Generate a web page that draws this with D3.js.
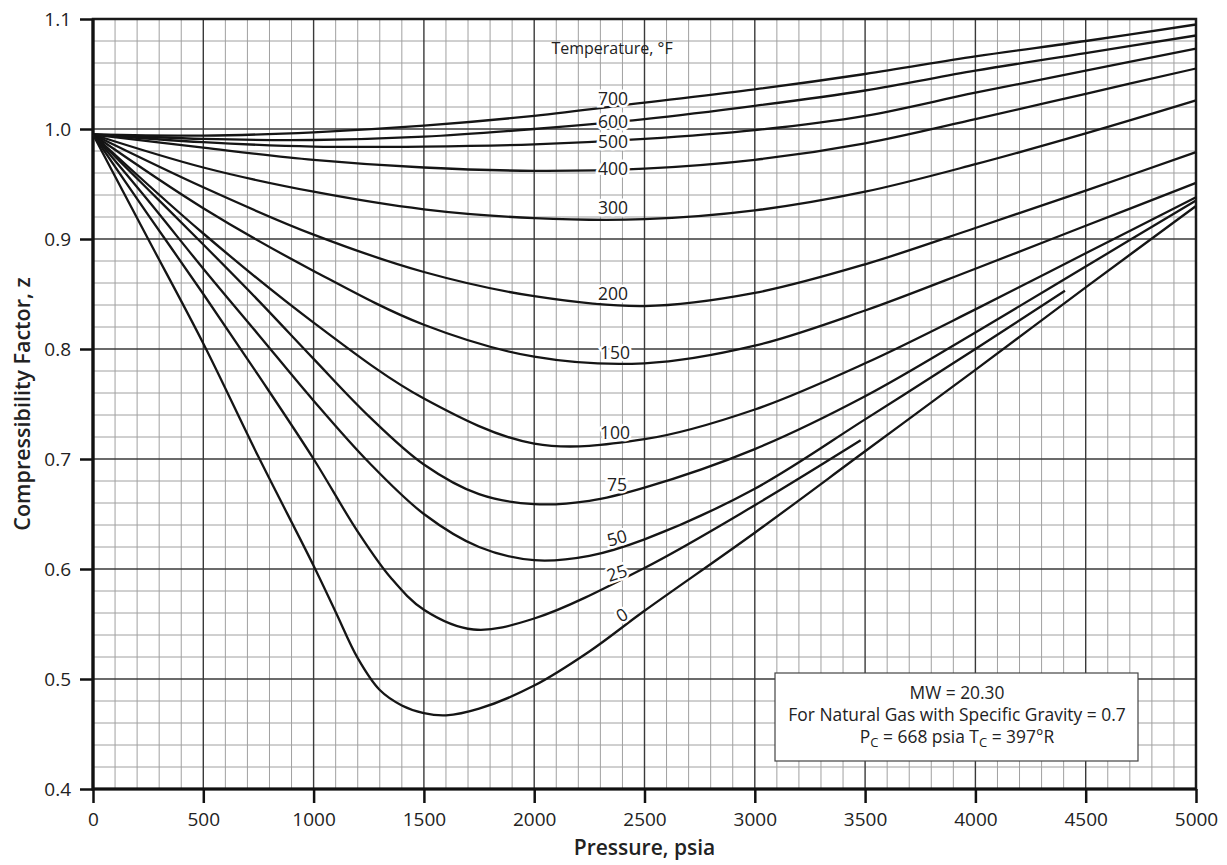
<!DOCTYPE html>
<html>
<head>
<meta charset="utf-8">
<script src="https://cdn.jsdelivr.net/npm/d3@7"></script>
<style>
  body { margin: 0; background: #fff; }
  svg { display: block; font-family: "Open Sans", "Noto Sans", sans-serif; }
</style>
</head>
<body>
<div id="chart"></div>
<script>
// pressure (psia) vs z
const t700 = [[0,0.995],[500,0.994],[1000,0.997],[1500,1.003],[2000,1.012],[2500,1.024],[3000,1.036],[3500,1.050],[4000,1.066],[4500,1.080],[5000,1.095]];
const t600 = [[0,0.995],[500,0.991],[1000,0.990],[1500,0.993],[2000,1.000],[2500,1.009],[3000,1.021],[3500,1.035],[4000,1.053],[4500,1.069],[5000,1.085]];
const t500 = [[0,0.995],[500,0.988],[1000,0.984],[1500,0.984],[2000,0.986],[2500,0.991],[3000,0.999],[3500,1.012],[4000,1.033],[4500,1.053],[5000,1.073]];
const t400 = [[0,0.995],[500,0.983],[1000,0.972],[1500,0.965],[2000,0.962],[2500,0.964],[3000,0.972],[3500,0.987],[4000,1.009],[4500,1.032],[5000,1.055]];
const t300 = [[0,0.995],[500,0.965],[1000,0.943],[1500,0.927],[2000,0.919],[2500,0.918],[3000,0.926],[3500,0.943],[4000,0.968],[4500,0.996],[5000,1.026]];
const t200 = [[0,0.995],[500,0.947],[1000,0.904],[1500,0.870],[2000,0.848],[2500,0.839],[3000,0.851],[3500,0.877],[4000,0.910],[4500,0.944],[5000,0.979]];
const t150 = [[0,0.995],[500,0.928],[1000,0.871],[1500,0.822],[2000,0.793],[2500,0.787],[3000,0.803],[3500,0.835],[4000,0.873],[4500,0.912],[5000,0.951]];
const t100 = [[0,0.995],[500,0.905],[1000,0.824],[1500,0.755],[2000,0.714],[2500,0.718],[3000,0.745],[3500,0.787],[4000,0.836],[4500,0.887],[5000,0.938]];
const t75  = [[0,0.995],[250,0.945],[500,0.895],[750,0.844],[1000,0.791],[1250,0.739],[1500,0.695],[1750,0.668],[2000,0.659],[2250,0.662],[2500,0.674],[3000,0.709],[3500,0.757],[4000,0.815],[4500,0.875],[5000,0.935]];
const t50  = [[0,0.995],[250,0.935],[500,0.873],[750,0.813],[1000,0.753],[1250,0.697],[1500,0.650],[1750,0.620],[2000,0.608],[2250,0.612],[2500,0.627],[3000,0.673],[3500,0.736],[4000,0.800],[4406,0.853]];
const t25  = [[0,0.995],[250,0.922],[500,0.850],[750,0.776],[1000,0.700],[1200,0.634],[1350,0.592],[1500,0.563],[1725,0.545],[2000,0.555],[2500,0.601],[3000,0.658],[3480,0.717]];
const t0   = [[0,0.995],[250,0.900],[500,0.805],[750,0.702],[1000,0.603],[1100,0.561],[1200,0.519],[1300,0.490],[1400,0.476],[1500,0.469],[1600,0.467],[1750,0.473],[2000,0.494],[2250,0.525],[2500,0.562],[3000,0.633],[3500,0.707],[4000,0.781],[4500,0.856],[5000,0.930]];

const curves = [t700, t600, t500, t400, t300, t200, t150, t100, t75, t50, t25, t0];

const xTicks = [0, 500, 1000, 1500, 2000, 2500, 3000, 3500, 4000, 4500, 5000];
const yTicks = [0.4, 0.5, 0.6, 0.7, 0.8, 0.9, 1.0, 1.1];

// curve labels: text, pressure, z, rotation
const curveLabels = [
  ["700", 2357, 1.028, 0], ["600", 2357, 1.0066, 0], ["500", 2357, 0.9885, 0],
  ["400", 2357, 0.9643, 0], ["300", 2357, 0.9288, 0], ["200", 2357, 0.8506, 0],
  ["150", 2366, 0.7964, 0], ["100", 2366, 0.7236, 0], ["75", 2375, 0.6764, 0],
  ["50", 2375, 0.6282, -15], ["25", 2375, 0.5964, -18], ["0", 2398, 0.5582, -32]
];

const svgWidth = 1227;
const svgHeight = 865;

const x = d3.scaleLinear().domain([0, 5000]).range([93, 1196]);
const y = d3.scaleLinear().domain([0.4, 1.1]).range([789, 19]);

const svg = d3.select("#chart")
    .append("svg")
    .attr("width", svgWidth)
    .attr("height", svgHeight);

// minor grid
const grid = svg.append("g");
grid.selectAll(".vminor")
    .data(d3.range(0, 5001, 100).filter(d => d % 500 !== 0))
    .enter().append("line")
    .attr("x1", d => x(d)).attr("x2", d => x(d))
    .attr("y1", y(1.1)).attr("y2", y(0.4))
    .attr("stroke", "#a0a0a0")
    .attr("stroke-width", 1);

grid.selectAll(".hminor")
    .data(d3.range(20, 56).filter(d => d % 5 !== 0).map(d => d / 50))
    .enter().append("line")
    .attr("x1", x(0)).attr("x2", x(5000))
    .attr("y1", d => y(d)).attr("y2", d => y(d))
    .attr("stroke", "#a0a0a0")
    .attr("stroke-width", 1);

// major grid
grid.selectAll(".vmajor")
    .data(xTicks)
    .enter().append("line")
    .attr("x1", d => x(d)).attr("x2", d => x(d))
    .attr("y1", y(1.1)).attr("y2", y(0.4))
    .attr("stroke", "#3a3a3a")
    .attr("stroke-width", 1.4);

grid.selectAll(".hmajor")
    .data(yTicks)
    .enter().append("line")
    .attr("x1", x(0)).attr("x2", x(5000))
    .attr("y1", d => y(d)).attr("y2", d => y(d))
    .attr("stroke", "#3a3a3a")
    .attr("stroke-width", 1.4);

// axes
const xAxis = svg.append("g")
    .attr("transform", `translate(0,${y(0.4)})`)
    .call(d3.axisBottom(x).tickValues(xTicks).tickSize(14).tickPadding(10).tickFormat(d3.format("d")));

const yAxis = svg.append("g")
    .attr("transform", `translate(${x(0)},0)`)
    .call(d3.axisLeft(y).tickValues(yTicks).tickSize(13).tickPadding(9).tickFormat(d3.format(".1f")));

[xAxis, yAxis].forEach(a => {
    a.select(".domain").remove();
    a.selectAll(".tick line").attr("stroke", "#111").attr("stroke-width", 2.5);
    a.selectAll(".tick text")
        .attr("fill", "#222")
        .style("font-size", "19px")
        .style("font-family", "'Open Sans', sans-serif");
});

// frame
svg.append("rect")
    .attr("x", x(0)).attr("y", y(1.1))
    .attr("width", x(5000) - x(0)).attr("height", y(0.4) - y(1.1))
    .attr("fill", "none")
    .attr("stroke", "#1a1a1a")
    .attr("stroke-width", 2.5);

svg.append("path")
    .attr("d", `M${x(0)},${y(1.1)}V${y(0.4)}H${x(5000)}`)
    .attr("fill", "none")
    .attr("stroke", "#111")
    .attr("stroke-width", 3.2);

// curves
const line = d3.line()
    .x(d => x(d[0]))
    .y(d => y(d[1]))
    .curve(d3.curveCatmullRom.alpha(0.5));

svg.append("g").selectAll("path")
    .data(curves)
    .enter().append("path")
    .attr("d", line)
    .attr("fill", "none")
    .attr("stroke", "#151515")
    .attr("stroke-width", 2.3);

// curve labels
svg.append("text")
    .attr("x", x(2353)).attr("y", y(1.0736))
    .attr("text-anchor", "middle")
    .attr("dy", "0.35em")
    .style("font-size", "16px")
    .attr("fill", "#222")
    .text("Temperature, °F");

svg.append("g").selectAll("text")
    .data(curveLabels)
    .enter().append("text")
    .attr("transform", d => `translate(${x(d[1])},${y(d[2])}) rotate(${d[3]})`)
    .attr("text-anchor", "middle")
    .attr("dy", "0.36em")
    .style("font-size", "17.5px")
    .attr("fill", "#222")
    .attr("stroke", "#fff")
    .attr("stroke-width", 5)
    .attr("paint-order", "stroke")
    .text(d => d[0]);

// info box
const box = svg.append("g");
box.append("rect")
    .attr("x", 775).attr("y", 673)
    .attr("width", 363).attr("height", 88)
    .attr("fill", "#fff")
    .attr("stroke", "#444")
    .attr("stroke-width", 1.2);

const boxText = box.append("text")
    .attr("text-anchor", "middle")
    .style("font-size", "17.4px")
    .attr("fill", "#222");
boxText.append("tspan").attr("x", 957).attr("y", 699).text("MW = 20.30");
boxText.append("tspan").attr("x", 957).attr("y", 721).text("For Natural Gas with Specific Gravity = 0.7");
const l3 = boxText.append("tspan").attr("x", 957).attr("y", 743);
l3.append("tspan").text("P");
l3.append("tspan").attr("dy", 4).style("font-size", "13px").text("C");
l3.append("tspan").attr("dy", -4).text(" = 668 psia T");
l3.append("tspan").attr("dy", 4).style("font-size", "13px").text("C");
l3.append("tspan").attr("dy", -4).text(" = 397°R");

// axis titles
svg.append("text")
    .attr("x", x(2500)).attr("y", 848)
    .attr("text-anchor", "middle")
    .attr("dy", "0.35em")
    .style("font-size", "21px")
    .style("font-weight", 600)
    .attr("fill", "#222")
    .text("Pressure, psia");

svg.append("text")
    .attr("transform", `translate(22,${(y(0.4) + y(1.1)) / 2}) rotate(-90)`)
    .attr("text-anchor", "middle")
    .attr("dy", "0.35em")
    .style("font-size", "21.5px")
    .style("font-weight", 600)
    .attr("fill", "#222")
    .text("Compressibility Factor, z");
</script>
</body>
</html>
